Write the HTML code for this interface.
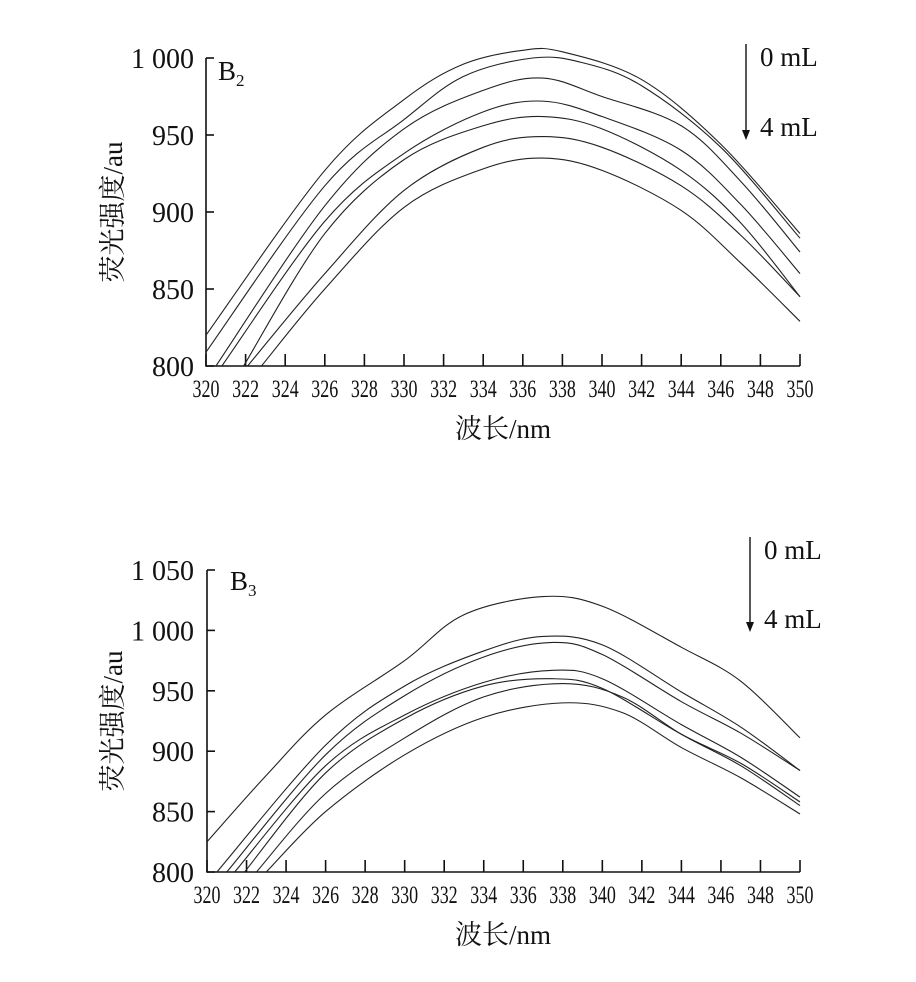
<!DOCTYPE html>
<html><head><meta charset="utf-8"><style>
body{margin:0;background:#fff}
svg text{font-family:"Liberation Serif","Noto Serif CJK SC",serif;fill:#111}
</style></head><body>
<svg id="s" width="916" height="977" viewBox="0 0 916 977" xmlns="http://www.w3.org/2000/svg"></svg>
<script>
const S=document.getElementById('s');let h='';
function chart(o){
 const X=v=>o.x0+(v-320)*(o.x1-o.x0)/30, Y=v=>o.yb-(v-o.vmin)*(o.yb-o.yt)/(o.vmax-o.vmin);
 h+=`<g stroke="#111" stroke-width="1.6" fill="none"><path d="M${o.x0},${o.yt}V${o.yb}H${o.x1}"/>`;
 for(let v=320;v<=350;v+=2){h+=`<path d="M${X(v)},${o.yb}v-12"/>`}
 for(let v=o.vmin;v<=o.vmax;v+=50){h+=`<path d="M${o.x0},${Y(v)}h8"/>`}
 h+='</g>';
 for(let v=320;v<=350;v+=2){h+=`<text x="${X(v)}" y="${o.yb+31}" font-size="25" text-anchor="middle" transform="translate(${X(v)},0) scale(0.72,1) translate(${-X(v)},0)">${v}</text>`}
 for(let v=o.vmin;v<=o.vmax;v+=50){let t=v>=1000?('1 '+String(v).slice(1)):v;h+=`<text x="194" y="${Y(v)+10}" font-size="28" text-anchor="end">${t}</text>`}
 h+=`<text x="503" y="${o.yb+72}" font-size="27" text-anchor="middle">波长/nm</text>`;
 const cy=(o.yt+o.yb)/2;
 h+=`<text x="0" y="0" font-size="27" text-anchor="middle" transform="translate(122,${cy}) rotate(-90)">荧光强度/au</text>`;
 h+=`<text x="${o.bx}" y="${o.by}" font-size="27">B<tspan font-size="17" dy="6">${o.sub}</tspan></text>`;
 h+=`<g stroke="#111" stroke-width="1.4"><path d="M${o.ax},${o.ay0}V${o.ay1-8}"/></g><path d="M${o.ax-4},${o.ay1-10}L${o.ax},${o.ay1}L${o.ax+4},${o.ay1-10}Z" fill="#111"/>`;
 h+=`<text x="${o.ax+14}" y="${o.ay0+22}" font-size="27">0 mL</text><text x="${o.ax+14}" y="${o.ay1-4}" font-size="27">4 mL</text>`;
 h+='<defs><clipPath id="c'+o.sub+'"><rect x="'+o.x0+'" y="0" width="'+(o.x1-o.x0+2)+'" height="'+o.yb+'"/></clipPath></defs>';
 h+='<g fill="none" stroke="#222" stroke-width="1.1" clip-path="url(#c'+o.sub+')">';
 for(const c of o.curves){
  const p=c.map(q=>[X(q[0]),Y(q[1])]);
  let d=`M${p[0][0]},${p[0][1]}`;
  for(let i=0;i<p.length-1;i++){const a=p[i-1]||p[i],b=p[i],e=p[i+1],f=p[i+2]||e;
   d+=`C${b[0]+(e[0]-a[0])/6},${b[1]+(e[1]-a[1])/6} ${e[0]-(f[0]-b[0])/6},${e[1]-(f[1]-b[1])/6} ${e[0]},${e[1]}`;}
  h+=`<path d="${d}"/>`;
 }
 h+='</g>';
}
chart({x0:206,x1:800,yt:58,yb:366,vmin:800,vmax:1000,sub:2,bx:218,by:80,ax:746,ay0:44,ay1:140,
curves:[
[[320,820],[326,927],[330,973],[333,996],[336,1005],[338,1004],[342,986],[346,944],[350,886]],
[[320,809],[326,917],[330,960],[333,988],[336.5,1000],[339,997],[342,982],[346,942],[350,883]],
[[320.5,800],[326,904],[330,954],[334,979],[337,987],[340,975],[344,956],[347,920],[350,874]],
[[320.8,800],[326,894],[330,938],[334,965],[337,972],[340,962],[344,940],[347,905],[350,860]],
[[321.9,800],[326,886],[330,934],[334,956],[337,962],[340,954],[344,927],[347,893],[350,845]],
[[322.1,800],[326,860],[330,914],[334,942],[337,949],[340,942],[344,917],[347,885],[350,845]],
[[322.8,800],[326,850],[330,903],[334,928],[337,935],[340,927],[344,901],[347,867],[350,829]]
]});
chart({x0:207,x1:800,yt:570,yb:872,vmin:800,vmax:1050,sub:3,bx:230,by:590,ax:750,ay0:537,ay1:632,
curves:[
[[320,825],[323,880],[326,930],[330,975],[333,1013],[337,1028],[340,1020],[344,986],[347,958],[350,911]],
[[320.5,800],[326,905],[330,954],[334,983],[337,995],[340,988],[344,949],[347,920],[350,884]],
[[321,800],[326,897],[330,946],[334,978],[337.5,990],[340,980],[344,941],[347,915],[350,884]],
[[321.4,800],[326,888],[330,930],[334,957],[337.5,967],[340,960],[344,922],[347,895],[350,862]],
[[321.9,800],[326,882],[330,927],[334,954],[337.5,960],[340,952],[344,914],[347,890],[350,858]],
[[322.5,800],[326,865],[330,911],[334,945],[338,956],[341,945],[344,914],[347,888],[350,855]],
[[323,800],[326,850],[330,897],[334,928],[338,940],[341,932],[344,903],[347,878],[350,848]]
]});
S.innerHTML=h;
</script>
</body></html>
